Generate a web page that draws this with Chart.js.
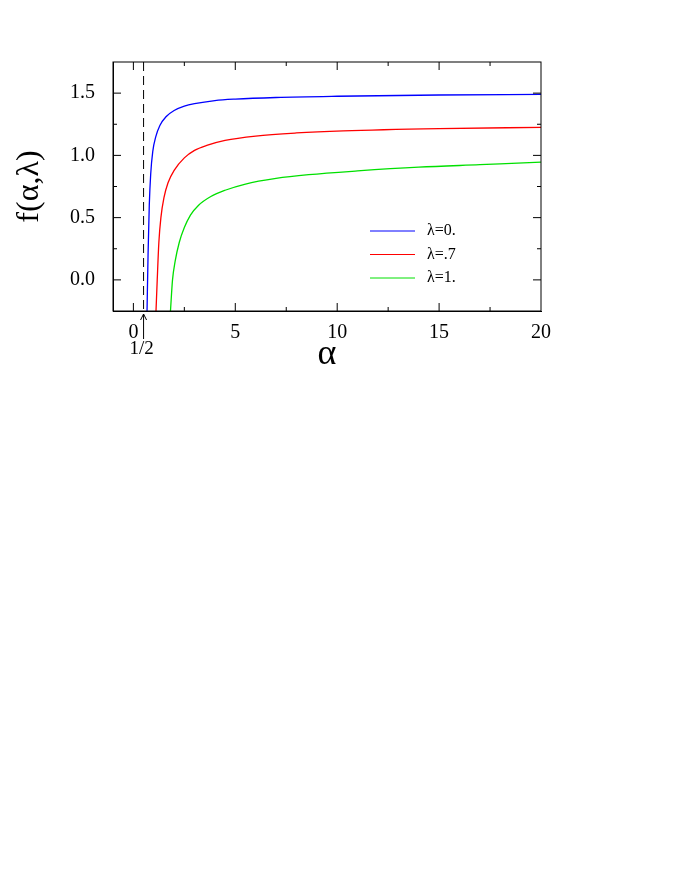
<!DOCTYPE html>
<html>
<head>
<meta charset="utf-8">
<script src="https://cdn.jsdelivr.net/npm/chart.js@4"></script>
<style>
  body { margin: 0; background: #fff; }
</style>
</head>
<body>
<canvas id="fChart" width="673" height="871"></canvas>
<script>
const blueX = [0.67, 0.72, 0.78, 0.85, 0.95, 1.1, 1.3, 1.6, 2, 2.5, 3, 4, 5, 7, 10, 15, 20];
const blueY = [-0.25, 0.2, 0.6, 0.85, 1.03, 1.15, 1.24, 1.31, 1.36, 1.395, 1.415, 1.44, 1.452, 1.465, 1.475, 1.485, 1.49];
const redX = [1.11, 1.17, 1.25, 1.35, 1.5, 1.7, 2, 2.5, 3, 3.6, 4.5, 6, 8, 10.3, 15, 20];
const redY = [-0.25, 0, 0.3, 0.5, 0.66, 0.78, 0.88, 0.98, 1.04, 1.08, 1.12, 1.155, 1.18, 1.197, 1.215, 1.225];
const greenX = [1.82, 1.92, 2.05, 2.25, 2.5, 2.8, 3.2, 3.8, 4.5, 5.5, 7, 8.6, 11, 14, 17, 20];
const greenY = [-0.25, 0, 0.15, 0.3, 0.42, 0.52, 0.6, 0.67, 0.72, 0.77, 0.815, 0.845, 0.875, 0.905, 0.925, 0.945];
const seriesLabels = ['λ=0.', 'λ=.7', 'λ=1.'];
const xTicks = [-1, 0, 2.5, 5, 7.5, 10, 12.5, 15, 17.5, 20];
const xLabels = [0, 5, 10, 15, 20];
const yTicks = [-0.25, 0, 0.25, 0.5, 0.75, 1.0, 1.25, 1.5, 1.75];
const yLabels = [0, 0.5, 1.0, 1.5];
const halfX = 0.5;

const pts = (xs, ys) => xs.map((x, i) => ({ x: x, y: ys[i] }));
const serif = 'Liberation Serif';

const decor = {
    id: 'decor',
    afterDraw(chart) {
        const ctx = chart.ctx;
        const a = chart.chartArea;
        const xs = chart.scales.x, ys = chart.scales.y;
        ctx.save();
        ctx.strokeStyle = '#000';
        ctx.lineWidth = 1;
        ctx.strokeRect(a.left, a.top, a.right - a.left, a.bottom - a.top);
        // inward ticks on all four sides
        xTicks.forEach(v => {
            if (v <= xs.min || v >= xs.max) return;
            const px = xs.getPixelForValue(v);
            const len = xLabels.includes(v) ? 8 : 4;
            ctx.beginPath();
            ctx.moveTo(px, a.bottom); ctx.lineTo(px, a.bottom - len);
            ctx.moveTo(px, a.top); ctx.lineTo(px, a.top + len);
            ctx.stroke();
        });
        yTicks.forEach(v => {
            if (v <= ys.min || v >= ys.max) return;
            const py = ys.getPixelForValue(v);
            const len = yLabels.includes(v) ? 8 : 4;
            ctx.beginPath();
            ctx.moveTo(a.left, py); ctx.lineTo(a.left + len, py);
            ctx.moveTo(a.right, py); ctx.lineTo(a.right - len, py);
            ctx.stroke();
        });
        // dashed line at alpha = 1/2
        const hx = xs.getPixelForValue(halfX);
        ctx.setLineDash([9, 5]);
        ctx.beginPath();
        ctx.moveTo(hx, a.top); ctx.lineTo(hx, a.bottom);
        ctx.stroke();
        ctx.setLineDash([]);
        // arrow and label below axis
        ctx.beginPath();
        ctx.moveTo(hx, a.bottom + 28); ctx.lineTo(hx, a.bottom + 3);
        ctx.moveTo(hx - 3, a.bottom + 9); ctx.lineTo(hx, a.bottom + 3); ctx.lineTo(hx + 3, a.bottom + 9);
        ctx.stroke();
        ctx.fillStyle = '#000';
        ctx.font = '19px "' + serif + '"';
        ctx.textAlign = 'center';
        ctx.textBaseline = 'top';
        ctx.fillText('1/2', hx - 2, a.bottom + 29);
        // legend
        const colors = ['#0000ff', '#ff0000', '#00e000'];
        ctx.font = '16px "' + serif + '"';
        ctx.textAlign = 'left';
        ctx.textBaseline = 'middle';
        seriesLabels.forEach((lab, i) => {
            const y = 231 + i * 23.5;
            ctx.strokeStyle = colors[i];
            ctx.beginPath();
            ctx.moveTo(370, y); ctx.lineTo(415, y);
            ctx.stroke();
            ctx.fillText(lab, 427, y);
        });
        ctx.restore();
    }
};

new Chart(document.getElementById('fChart'), {
    type: 'scatter',
    data: {
        datasets: [
            { label: seriesLabels[0], data: pts(blueX, blueY), borderColor: '#0000ff' },
            { label: seriesLabels[1], data: pts(redX, redY), borderColor: '#ff0000' },
            { label: seriesLabels[2], data: pts(greenX, greenY), borderColor: '#00e000' }
        ].map(d => Object.assign(d, { showLine: true, pointRadius: 0, borderWidth: 1.3, cubicInterpolationMode: 'monotone' }))
    },
    options: {
        responsive: false,
        animation: false,
        layout: { padding: { left: 10, top: 62, right: 132, bottom: 495 } },
        plugins: { legend: { display: false }, tooltip: { enabled: false } },
        scales: {
            x: {
                type: 'linear', min: -1, max: 20,
                afterBuildTicks: s => { s.ticks = xTicks.map(v => ({ value: v })); },
                afterFit: s => { s.height = 65; },
                grid: { display: false },
                border: { color: '#000', width: 1 },
                ticks: {
                    color: '#000', padding: 2, autoSkip: false, maxRotation: 0,
                    font: { family: serif, size: 20 },
                    callback: v => xLabels.includes(v) ? String(v) : ''
                },
                title: { display: true, text: 'α', color: '#000', padding: { top: 0, bottom: 0 }, font: { family: serif, size: 36 } }
            },
            y: {
                type: 'linear', min: -0.25, max: 1.75,
                afterBuildTicks: s => { s.ticks = yTicks.map(v => ({ value: v })); },
                afterFit: s => { s.width = 103; },
                grid: { display: false },
                border: { color: '#000', width: 1 },
                ticks: {
                    color: '#000', padding: 10, autoSkip: false,
                    font: { family: serif, size: 20 },
                    callback: v => yLabels.includes(v) ? v.toFixed(1) : ''
                },
                title: { display: true, text: 'f(α,λ)', color: '#000', padding: 0, font: { family: serif, size: 32 } }
            }
        }
    },
    plugins: [decor]
});
</script>
</body>
</html>
